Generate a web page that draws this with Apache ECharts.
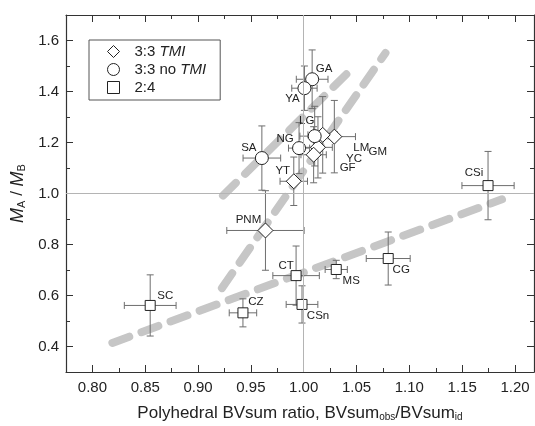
<!DOCTYPE html>
<html>
<head>
<meta charset="utf-8">
<script src="https://cdn.jsdelivr.net/npm/echarts@6/dist/echarts.min.js"></script>
<style>
  html, body { margin: 0; padding: 0; background: #fff; }
  #chart { width: 535px; height: 426px; }
</style>
</head>
<body>
<div id="chart"></div>
<script>
// 3:3 with TMI (diamonds)
var tmiNames = ['LM', 'GM', 'YC', 'GF', 'YT', 'PNM'];
var tmiX = [1.029, 1.018, 1.0135, 1.0094, 0.9906, 0.9638];
var tmiY = [1.223, 1.23, 1.181, 1.152, 1.048, 0.855];
var tmiXErr = [0.02, 0.014, 0.0136, 0.012, 0.013, 0.0366];
var tmiYErr = [0.142, 0.15, 0.12, 0.11, 0.095, 0.156];

// 3:3 without TMI (circles)
var noTmiNames = ['GA', 'YA', 'LG', 'NG', 'SA'];
var noTmiX = [1.008, 1.0007, 1.0104, 0.9956, 0.9604];
var noTmiY = [1.448, 1.413, 1.225, 1.178, 1.139];
var noTmiXErr = [0.015, 0.012, 0.014, 0.01, 0.0178];
var noTmiYErr = [0.115, 0.087, 0.117, 0.1, 0.126];

// 2:4 (squares)
var sqNames = ['SC', 'CZ', 'CT', 'CSn', 'MS', 'CG', 'CSi'];
var sqX = [0.8547, 0.9425, 0.9928, 0.9984, 1.0308, 1.08, 1.1745];
var sqY = [0.561, 0.532, 0.678, 0.565, 0.702, 0.745, 1.031];
var sqXErr = [0.0245, 0.013, 0.022, 0.015, 0.0105, 0.0208, 0.0247];
var sqYErr = [0.12, 0.055, 0.116, 0.073, 0.036, 0.104, 0.134];

// guide lines (thick grey dashes)
var guideSteepLow = [[0.9226, 0.629], [1.0774, 1.551]];
var guideSteepHigh = [[0.9236, 0.992], [1.0434, 1.48]];
var guideFlat = [[0.8189, 0.414], [1.1877, 0.977]];

// ticks
var xMajor = [0.80, 0.85, 0.90, 0.95, 1.00, 1.05, 1.10, 1.15, 1.20];
var xMinor = [0.825, 0.875, 0.925, 0.975, 1.025, 1.075, 1.125, 1.175];
var yMajor = [0.4, 0.6, 0.8, 1.0, 1.2, 1.4, 1.6];
var yMinor = [0.5, 0.7, 0.9, 1.1, 1.3, 1.5];

// where each point label sits, relative to its marker centre (px)
var labelShift = {
  GA: [12, -10], YA: [-12, 11], LG: [-8, -15], NG: [-14, -9], SA: [-13, -10],
  YT: [-11, -10], PNM: [-17, -11], CT: [-10, -10], CSn: [16, 11], MS: [15, 11],
  CG: [13, 11], CZ: [13, -11], SC: [15, -10], CSi: [-14, -13],
  LM: [27, 11], GM: [55, 17], YC: [36, 11], GF: [34, 13]
};

var FONT = 'Liberation Sans, Arial, sans-serif';
var XMIN = 0.775, XMAX = 1.218, YMIN = 0.3, YMAX = 1.7;

function points(names, xs, ys) {
  return names.map(function (n, i) {
    return {
      name: n,
      value: [xs[i], ys[i]],
      label: { offset: labelShift[n] }
    };
  });
}
function errRows(xs, ys, ex, ey) {
  return xs.map(function (x, i) { return [x, ys[i], ex[i], ey[i]]; });
}
var errData = errRows(tmiX, tmiY, tmiXErr, tmiYErr)
  .concat(errRows(noTmiX, noTmiY, noTmiXErr, noTmiYErr))
  .concat(errRows(sqX, sqY, sqXErr, sqYErr));

function axis(kind, pos, ticks, len, withLine, withLabel, digits) {
  return {
    type: 'value',
    position: pos,
    min: kind === 'x' ? XMIN : YMIN,
    max: kind === 'x' ? XMAX : YMAX,
    splitLine: { show: false },
    axisLine: { show: withLine, onZero: false, lineStyle: { color: '#333', width: 1.2 } },
    axisTick: { show: true, inside: true, length: len, customValues: ticks, lineStyle: { color: '#333', width: 1 } },
    axisLabel: {
      show: withLabel,
      customValues: ticks,
      margin: kind === 'x' ? 8 : 7,
      color: '#222',
      fontSize: 15,
      fontFamily: FONT,
      formatter: function (v) { return v.toFixed(digits); }
    }
  };
}

var xAxes = [
  axis('x', 'bottom', xMajor, 7, true, true, 2),
  axis('x', 'bottom', xMinor, 4, false, false, 2),
  axis('x', 'top', xMajor, 7, true, false, 2),
  axis('x', 'top', xMinor, 4, false, false, 2)
];
xAxes[0].name = 'Polyhedral BVsum ratio, BVsum{s|obs}/BVsum{s|id}';
xAxes[0].nameLocation = 'middle';
xAxes[0].nameGap = 32;
xAxes[0].nameTextStyle = {
  color: '#222', fontSize: 17, fontFamily: FONT, lineHeight: 17, verticalAlign: 'top',
  rich: { s: { fontSize: 10, fontFamily: FONT, color: '#222', lineHeight: 10, padding: [12, 0, 0, 0], verticalAlign: 'bottom' } }
};

var yAxes = [
  axis('y', 'left', yMajor, 7, true, true, 1),
  axis('y', 'left', yMinor, 4, false, false, 1),
  axis('y', 'right', yMajor, 7, true, false, 1),
  axis('y', 'right', yMinor, 4, false, false, 1)
];
yAxes[0].name = '{m|M}{s|A}{t| / }{m|M}{s|B}';
yAxes[0].nameLocation = 'middle';
yAxes[0].nameGap = 36;
yAxes[0].nameTextStyle = {
  color: '#222', fontFamily: FONT,
  rich: {
    m: { fontSize: 18, fontStyle: 'italic', fontFamily: FONT, color: '#222', lineHeight: 18, verticalAlign: 'top' },
    t: { fontSize: 17, fontFamily: FONT, color: '#222', lineHeight: 18, verticalAlign: 'top' },
    s: { fontSize: 11, fontFamily: FONT, color: '#222', lineHeight: 11, padding: [12, 0, 0, 0], verticalAlign: 'bottom' }
  }
};

function guide(data) {
  return {
    type: 'line',
    data: data,
    symbol: 'none',
    silent: true,
    z: 1,
    lineStyle: { color: '#c6c6c6', width: 8, type: [18, 13], cap: 'round' }
  };
}

function scatter(name, symbol, size, data) {
  return {
    name: name,
    type: 'scatter',
    symbol: symbol,
    symbolSize: size,
    data: data,
    z: 4,
    itemStyle: { color: '#fff', borderColor: '#222', borderWidth: 1, opacity: 1 },
    label: {
      show: true,
      position: 'inside',
      formatter: '{b}',
      color: '#222',
      fontSize: 11.5,
      fontFamily: FONT
    },
    emphasis: { disabled: true }
  };
}

var chart = echarts.init(document.getElementById('chart'), null, { renderer: 'canvas' });
chart.setOption({
  animation: false,
  grid: { left: 66, right: 1, top: 15, bottom: 54, containLabel: false, outerBoundsMode: 'none' },
  xAxis: xAxes,
  yAxis: yAxes,
  legend: {
    orient: 'vertical',
    left: 89,
    top: 40,
    padding: [4, 14, 5, 18],
    itemGap: 3,
    itemWidth: 12,
    itemHeight: 12,
    borderColor: '#555',
    borderWidth: 1,
    backgroundColor: '#fff',
    itemStyle: { color: '#fff', borderColor: '#222', borderWidth: 1 },
    data: ['3:3 TMI', '3:3 noTMI', '2:4'],
    formatter: function (n) {
      if (n === '3:3 TMI') return '{a|3:3 }{i|TMI}';
      if (n === '3:3 noTMI') return '{a|3:3 no }{i|TMI}';
      return '{a|' + n + '}';
    },
    textStyle: {
      color: '#222', fontSize: 15, fontFamily: FONT, padding: [0, 0, 0, 10],
      rich: {
        a: { fontSize: 15, fontFamily: FONT, color: '#222', lineHeight: 17 },
        i: { fontSize: 15, fontFamily: FONT, color: '#222', fontStyle: 'italic', lineHeight: 17 }
      }
    }
  },
  series: [
    {
      type: 'line',
      data: [],
      silent: true,
      markLine: {
        silent: true,
        symbol: 'none',
        label: { show: false },
        lineStyle: { color: '#b4b4b4', width: 1, type: 'solid' },
        data: [{ xAxis: 1.0 }, { yAxis: 1.0 }]
      }
    },
    guide(guideSteepLow),
    guide(guideSteepHigh),
    guide(guideFlat),
    {
      type: 'custom',
      data: errData,
      encode: { x: 0, y: 1 },
      silent: true,
      z: 2,
      renderItem: function (params, api) {
        var x = api.value(0), y = api.value(1), ex = api.value(2), ey = api.value(3);
        var l = api.coord([x - ex, y]), r = api.coord([x + ex, y]);
        var t = api.coord([x, y + ey]), b = api.coord([x, y - ey]);
        var c = 3.5;
        var st = { stroke: '#6e6e6e', lineWidth: 1 };
        function seg(x1, y1, x2, y2) {
          return { type: 'line', shape: { x1: x1, y1: y1, x2: x2, y2: y2 }, style: st };
        }
        return {
          type: 'group',
          children: [
            seg(l[0], l[1], r[0], r[1]),
            seg(t[0], t[1], b[0], b[1]),
            seg(l[0], l[1] - c, l[0], l[1] + c),
            seg(r[0], r[1] - c, r[0], r[1] + c),
            seg(t[0] - c, t[1], t[0] + c, t[1]),
            seg(b[0] - c, b[1], b[0] + c, b[1])
          ]
        };
      }
    },
    scatter('3:3 TMI', 'diamond', [15, 15], points(tmiNames, tmiX, tmiY)),
    scatter('3:3 noTMI', 'circle', 13, points(noTmiNames, noTmiX, noTmiY)),
    scatter('2:4', 'rect', 10, points(sqNames, sqX, sqY))
  ]
});
</script>
</body>
</html>
